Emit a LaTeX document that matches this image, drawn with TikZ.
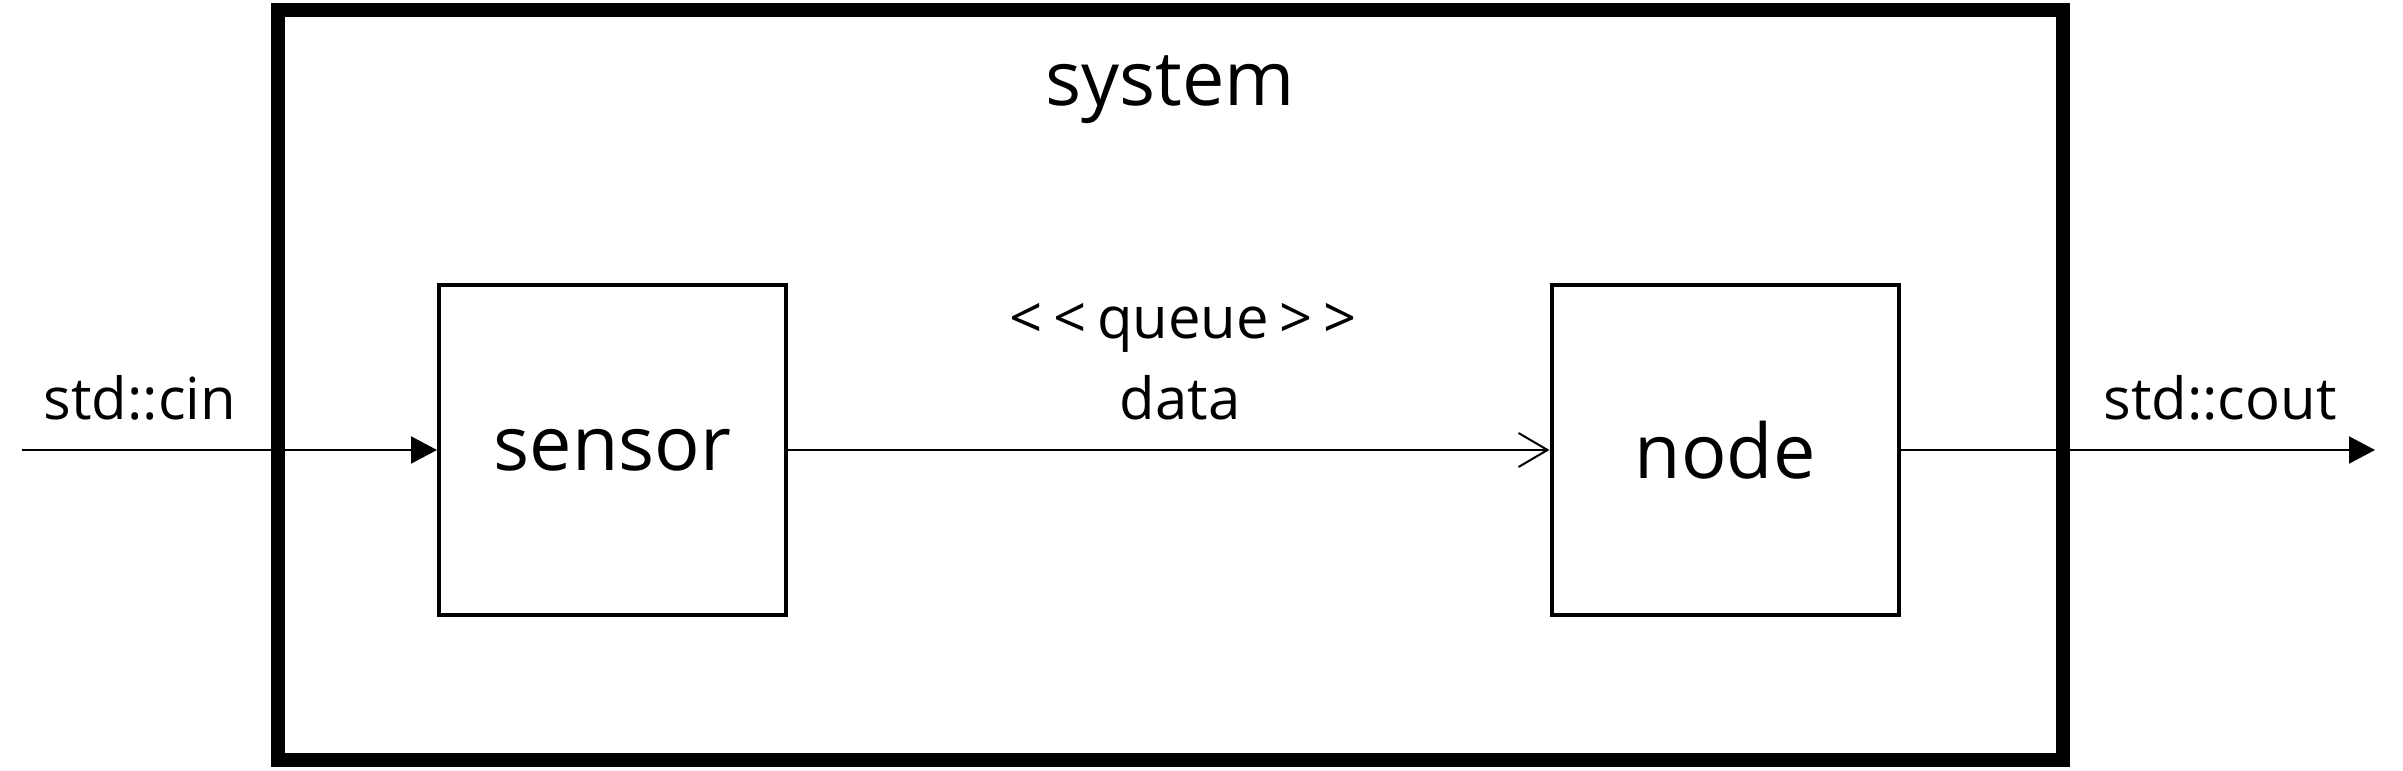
\documentclass[tikz,border=0pt]{standalone}
\usepackage{fontspec}
\setmainfont{Open Sans}
\usepackage{tikz}
\usetikzlibrary{positioning, arrows.meta}
\tikzset{
    sysframe/.style={draw, line width=0.14cm, minimum width=17.85cm, minimum height=7.50cm, inner sep=0pt},
    blockbox/.style={draw, line width=0.04cm, minimum width=3.47cm, minimum height=3.30cm, inner sep=0pt, font=\fontsize{21.5}{24}\selectfont},
    biglabel/.style={font=\fontsize{21.5}{24}\selectfont, inner sep=0pt, anchor=base},
    smalllabel/.style={font=\fontsize{16.5}{19}\selectfont, inner sep=0pt, anchor=base},
    flowarrow/.style={line width=0.02cm, -{Triangle[length=0.26cm, width=0.27cm]}},
    queuearrow/.style={line width=0.02cm, -{Straight Barb[length=0.29cm, width=0.34cm, line width=0.02cm]}}
}
\begin{document}
\begin{tikzpicture}
                \useasboundingbox (0, 0) rectangle (24.03, 7.70);
                % System
                \node[sysframe] (system) at (11.705, 3.85) {};
                \node[biglabel] (syslabel) at (11.70, 6.65) {system};
                
                % Blocks
                \node[blockbox] (sensor) at (6.125, 3.20) {\raisebox{-0.08cm}{sensor}};
                \node[blockbox] (nodeblk) at (17.25, 3.20) {node};
                
                % Queue
                \node[smalllabel] (queue) at (11.83, 4.31) {<\kern3pt<\kern3pt queue\kern3pt>\kern3pt>};
                \node[smalllabel] (data) at (11.80, 3.51) {data};
                \draw[queuearrow] (sensor) -- (nodeblk);
                
                % Input and output
                \coordinate (in) at (0.22, 3.20);
                \coordinate (out) at (23.75, 3.20);
                \node[smalllabel] (cin) at (1.40, 3.51) {std::cin};
                \node[smalllabel] (cout) at (22.20, 3.51) {std::cout};
                \draw[flowarrow] (in) -- (sensor);
                \draw[flowarrow] (nodeblk) -- (out);
            \end{tikzpicture}
\end{document}
